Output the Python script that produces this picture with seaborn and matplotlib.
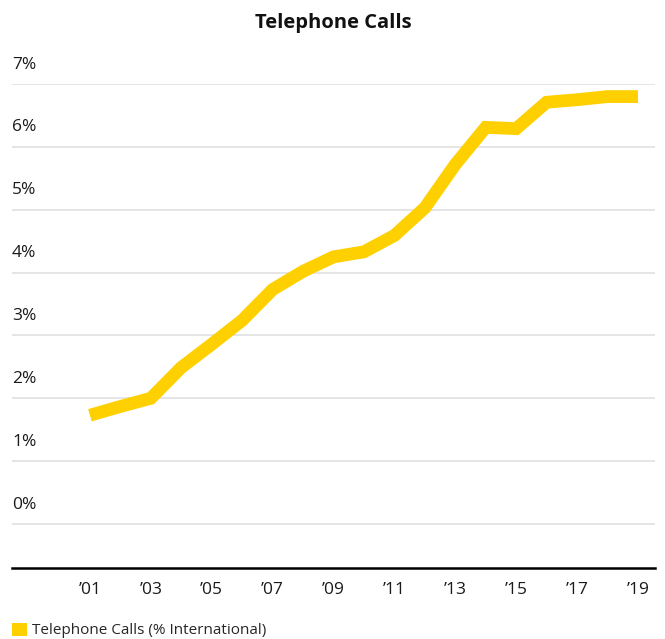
import numpy as np
import pandas as pd
import seaborn as sns
import matplotlib.pyplot as plt
from matplotlib.patches import Patch
from matplotlib.transforms import blended_transform_factory

# data
years = list(range(2001, 2020))
share = [1.73, 1.87, 2.00, 2.49, 2.86, 3.24, 3.73, 4.02, 4.25, 4.33,
         4.59, 5.03, 5.72, 6.31, 6.29, 6.71, 6.75, 6.80, 6.80]
ytick_vals = [0, 1, 2, 3, 4, 5, 6, 7]
ytick_labels = ["0%", "1%", "2%", "3%", "4%", "5%", "6%", "7%"]
xtick_years = list(range(2001, 2020, 2))
xtick_labels = ["\u2019" + str(y)[2:] for y in xtick_years]

series_name = "Telephone Calls (% International)"
df = pd.DataFrame({"year": years, "value": share})

sns.set_theme(style="white")
plt.rcParams["font.family"] = ["Open Sans", "DejaVu Sans"]

yellow = "#FFD000"
txt = "#1a1a1a"

fig = plt.figure(figsize=(6.65, 6.39), dpi=100)
ax = fig.add_axes([12 / 665, 1 - 568 / 639, 643 / 665, 484 / 639])

sns.lineplot(data=df, x="year", y="value", color=yellow, linewidth=9.2,
             ax=ax, legend=False, solid_capstyle="butt", solid_joinstyle="miter")

ax.set_xlim(1998.44, 2019.56)
ax.set_ylim(-0.70, 7.0)

# grid lines
for v in ytick_vals:
    ax.axhline(v, color="#e0e0e0", linewidth=1.2, zorder=0)

# y labels sit above each gridline
ax.set_yticks([])
trans = blended_transform_factory(ax.transAxes, ax.transData)
for v, lab in zip(ytick_vals, ytick_labels):
    ax.text(0, v + 0.31, lab, transform=trans, ha="left", va="center",
            fontsize=12.5, color=txt)

ax.set_xticks(xtick_years)
ax.set_xticklabels(xtick_labels, fontsize=12.5, color=txt)
ax.tick_params(axis="x", length=0, pad=10)
ax.set_xlabel("")
ax.set_ylabel("")

for s in ["top", "left", "right"]:
    ax.spines[s].set_visible(False)
ax.spines["bottom"].set_color("black")
ax.spines["bottom"].set_linewidth(1.8)

fig.text(333 / 665, 1 - 23 / 639, "Telephone Calls", ha="center", va="center",
         fontsize=14.5, fontweight="bold", color="#111111")

fig.legend(handles=[Patch(facecolor=yellow, edgecolor="none", label=series_name)],
           loc="lower left", bbox_to_anchor=(12 / 665, 0.001), frameon=False,
           fontsize=11, handlelength=0.98, handleheight=0.95, handletextpad=0.35,
           borderpad=0, borderaxespad=0)

fig.savefig("out.png", dpi=100)
